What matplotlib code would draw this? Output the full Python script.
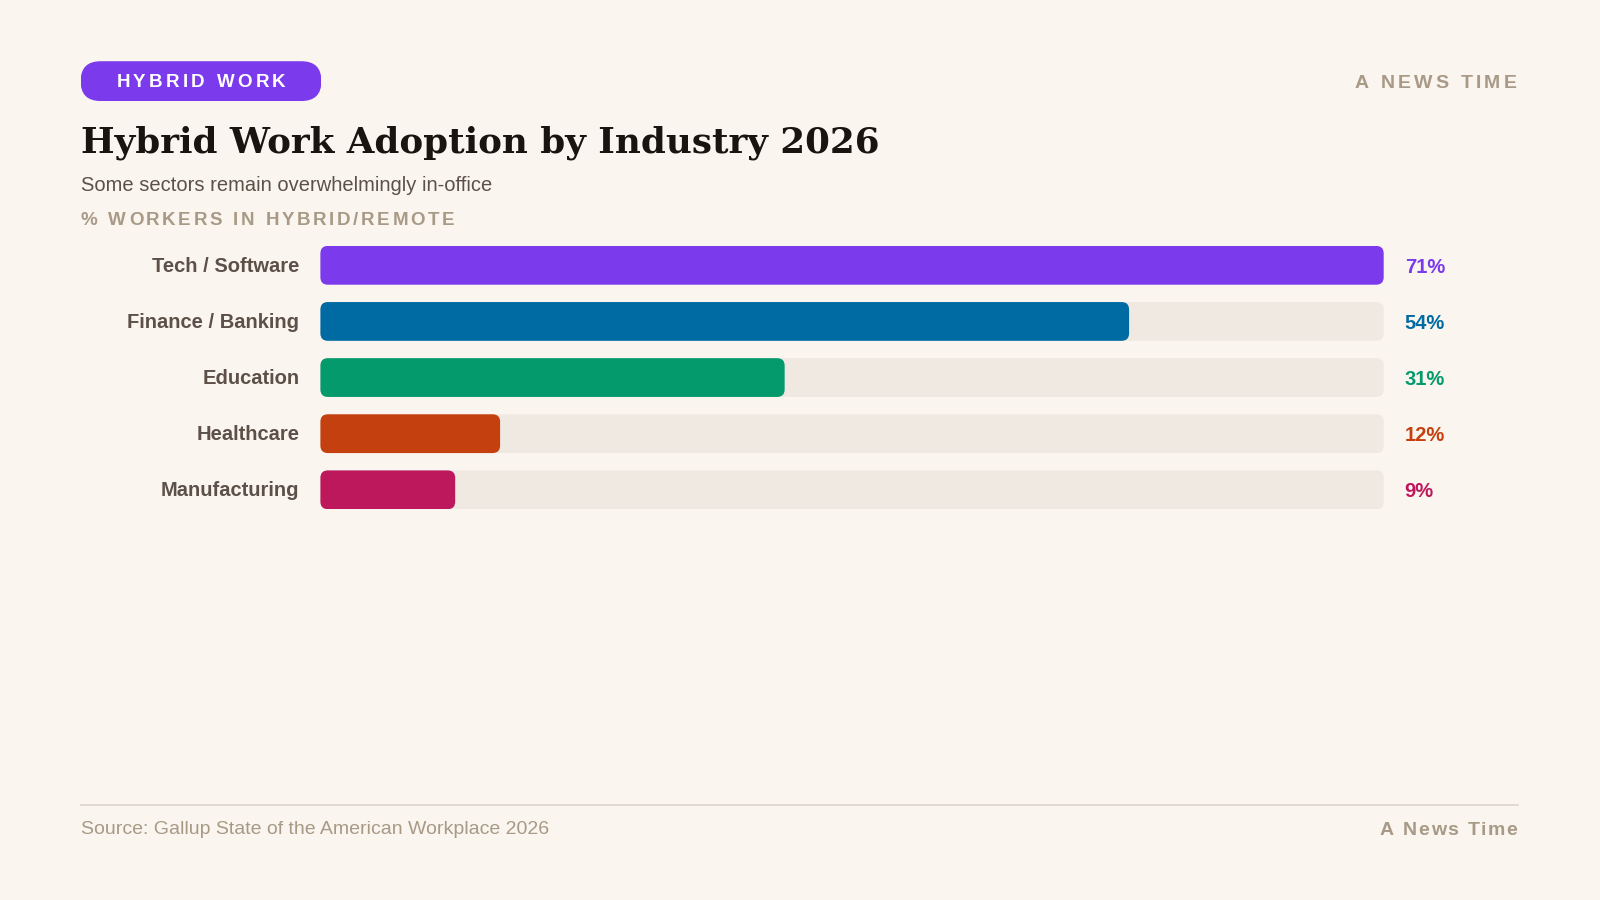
import matplotlib.pyplot as plt
from matplotlib.patches import FancyBboxPatch

categories = ["Tech / Software", "Finance / Banking", "Education", "Healthcare", "Manufacturing"]
values = [71, 54, 31, 12, 9]
colors = ["#7c3aed", "#006ba3", "#049a6c", "#c4410f", "#be185d"]
max_val = 71

BG = "#faf5ef"
TRACK = "#efe9e2"
W, H = 1568, 882

fig = plt.figure(figsize=(16, 9), dpi=100, facecolor=BG)
renderer = fig.canvas.get_renderer()


def fx(px):
    return px / W


def fy(py):
    return 1 - py / H


def spaced_text(x, y, s, spacing, ha="left", **kw):
    # draw text letter by letter with extra tracking (spacing in px of 1568 width)
    widths = []
    for ch in s:
        t = fig.text(0, 0, ch if ch != " " else "n", **kw)
        w = t.get_window_extent(renderer).width * W / fig.bbox.width
        if ch == " ":
            w *= 0.5
        widths.append(w)
        t.remove()
    total = sum(widths) + spacing * (len(s) - 1)
    if ha == "right":
        x0 = x - total
    elif ha == "center":
        x0 = x - total / 2
    else:
        x0 = x
    for ch, w in zip(s, widths):
        if ch != " ":
            fig.text(fx(x0), fy(y), ch, ha="left", va="center", **kw)
        x0 += w + spacing


# header pill
pill_ax = fig.add_axes([fx(79), fy(99), fx(315 - 79), (99 - 60) / H])
pill_ax.set_xlim(0, 236)
pill_ax.set_ylim(0, 39)
pill_ax.axis("off")
pill_ax.add_patch(FancyBboxPatch((0, 0), 236, 39, boxstyle="round,pad=0,rounding_size=19.5",
                                 fc="#7c3aed", ec="none"))
font = dict(family="Liberation Sans", fontweight="bold")
spaced_text(197, 81, "HYBRID WORK", 3.2, ha="center", color="white", fontsize=13.5, **font)
spaced_text(1486, 82, "A NEWS TIME", 3.0, ha="right", color="#a89a86", fontsize=14, **font)

fig.text(fx(79), fy(140), "Hybrid Work Adoption by Industry 2026", color="#1a1410", fontsize=25.7,
         fontweight="bold", ha="left", va="center", family="DejaVu Serif")
fig.text(fx(79), fy(182), "Some sectors remain overwhelmingly in-office", color="#5c5048", fontsize=14.5,
         ha="left", va="center", family="Liberation Sans")
spaced_text(79, 216, "% WORKERS IN HYBRID/REMOTE", 2.6, color="#a89a86", fontsize=13.5, **font)

# bars
ax = fig.add_axes([fx(314), fy(499), fx(1356 - 314), (499 - 241) / H])
ax.set_facecolor("none")
ax.set_xlim(0, max_val)
ax.set_ylim(258, 0)
ax.axis("off")
asp = 1042 / max_val
for i, (cat, v, c) in enumerate(zip(categories, values, colors)):
    top = 55 * i
    ax.add_patch(FancyBboxPatch((0, top), max_val, 38, boxstyle="round,pad=0,rounding_size=0.5",
                                mutation_aspect=asp, fc=TRACK, ec="none"))
    ax.add_patch(FancyBboxPatch((0, top), v, 38, boxstyle="round,pad=0,rounding_size=0.5",
                                mutation_aspect=asp, fc=c, ec="none"))
    ax.text(-1.4, top + 20, cat, color="#5c5048", fontsize=14.5, fontweight="bold",
            ha="right", va="center", family="Liberation Sans", clip_on=False)
    ax.text(max_val + 1.4, top + 21, f"{v}%", color=c, fontsize=14.5, fontweight="bold",
            ha="left", va="center", family="Liberation Sans", clip_on=False)

# footer
fig.add_artist(plt.Line2D([fx(79), fx(1488)], [fy(789), fy(789)], color="#ddd5cb", lw=1.2))
fig.text(fx(79), fy(813), "Source: Gallup State of the American Workplace 2026", color="#a89a86",
         fontsize=14, ha="left", va="center", family="Liberation Sans")
spaced_text(1487, 814, "A News Time", 1.5, ha="right", color="#a89a86", fontsize=14, **font)

fig.savefig("out.png", dpi=100, facecolor=BG)
